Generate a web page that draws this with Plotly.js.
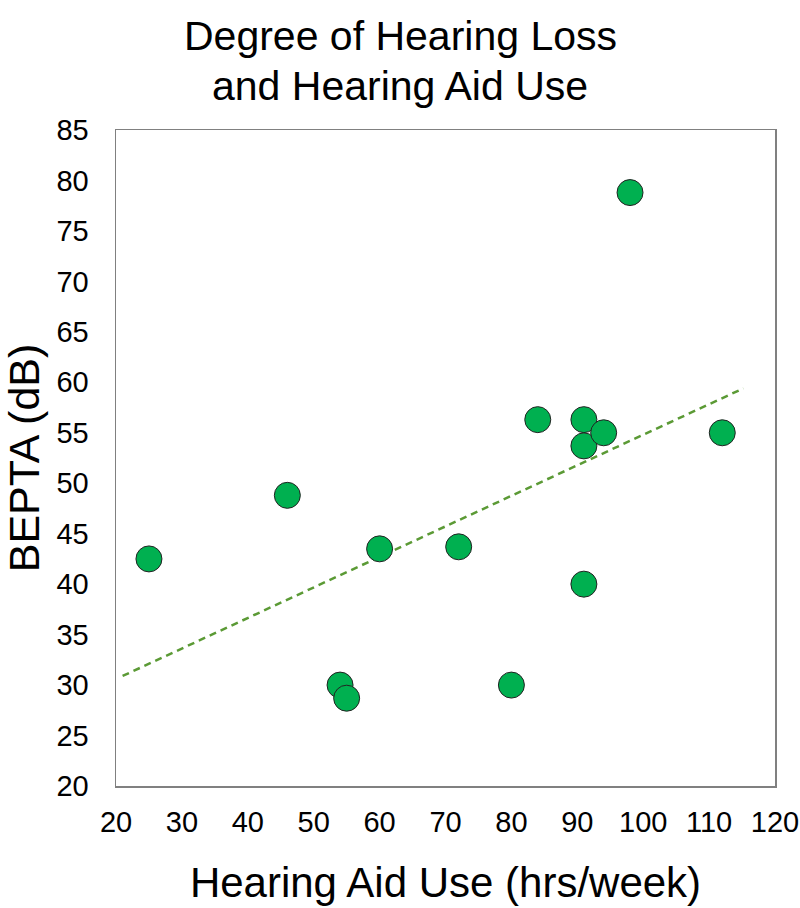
<!DOCTYPE html>
<html>
<head>
<meta charset="utf-8">
<script src="https://cdn.plot.ly/plotly-3.0.1.min.js"></script>
<style>html,body{margin:0;padding:0;background:#fff;}#chart{width:800px;height:908px;}</style>
</head>
<body>
<div id="chart"></div>
<script>
// Hearing aid use (hrs/week) and BEPTA (dB)
const hoursPerWeek = [25, 46, 54, 55, 60, 72, 80, 84, 91, 91, 91, 94, 98, 112];
const bepta        = [42.5, 48.8, 30.0, 28.7, 43.5, 43.7, 30.0, 56.3, 56.3, 53.7, 40.0, 55.0, 78.8, 55.0];
// Dashed trend line end points
const trendX = [21, 115.2];
const trendY = [30.9, 59.4];
const xTicks = [20, 30, 40, 50, 60, 70, 80, 90, 100, 110, 120];
const yTicks = [20, 25, 30, 35, 40, 45, 50, 55, 60, 65, 70, 75, 80, 85];
const titleLines = ['Degree of Hearing Loss', 'and Hearing Aid Use'];

const FONT = '"Liberation Sans", Arial, sans-serif';

const traces = [
  {
    x: trendX, y: trendY, type: 'scatter', mode: 'lines',
    line: {color: '#5b9a35', width: 2.5, dash: '7px,5px'},
    hoverinfo: 'skip', showlegend: false
  },
  {
    x: hoursPerWeek, y: bepta, type: 'scatter', mode: 'markers',
    marker: {color: '#00b050', size: 26, line: {color: '#222222', width: 1}},
    showlegend: false
  }
];

const titleY = [1.1435, 1.0673];
const annotations = titleLines.map((t, i) => ({
  text: t, xref: 'paper', yref: 'paper', x: 0.4310, y: titleY[i],
  xanchor: 'center', yanchor: 'middle', showarrow: false,
  font: {family: FONT, size: 41, color: '#000000'}
}));

const layout = {
  width: 800, height: 908,
  paper_bgcolor: '#ffffff', plot_bgcolor: '#ffffff',
  margin: {l: 116, r: 25, t: 130, b: 121.5, pad: 0},
  font: {family: FONT, color: '#000000'},
  annotations: annotations,
  xaxis: {
    range: [20, 120], tickvals: xTicks, ticktext: xTicks.map(String),
    showgrid: false, zeroline: false, ticks: '',
    showline: true, mirror: true, linecolor: '#808080', linewidth: 1.5,
    tickfont: {family: FONT, size: 29, color: '#000000'},
    ticklabelstandoff: 10,
    title: {text: 'Hearing Aid Use (hrs/week)', font: {family: FONT, size: 42, color: '#000000'}, standoff: 30}
  },
  yaxis: {
    range: [20, 85], tickvals: yTicks, ticktext: yTicks.map(String),
    showgrid: false, zeroline: false, ticks: '',
    showline: true, mirror: true, linecolor: '#808080', linewidth: 1.5,
    tickfont: {family: FONT, size: 29, color: '#000000'},
    ticklabelstandoff: 20,
    title: {text: 'BEPTA (dB)', font: {family: FONT, size: 43, color: '#000000'}, standoff: 10}
  }
};

Plotly.newPlot('chart', traces, layout, {displayModeBar: false, staticPlot: true});
</script>
</body>
</html>
